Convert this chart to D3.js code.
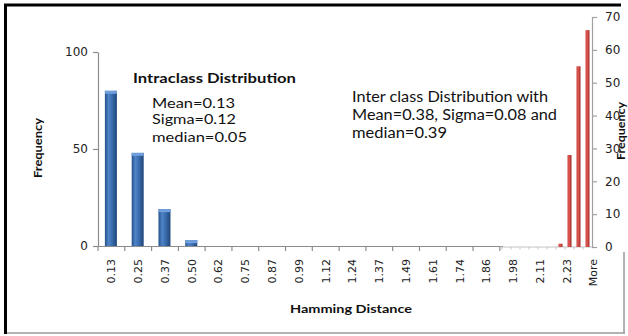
<!DOCTYPE html>
<html>
<head>
<meta charset="utf-8">
<script src="https://cdn.jsdelivr.net/npm/d3@7"></script>
<style>
  html, body { margin: 0; padding: 0; background: #fff; }
  svg { display: block; }
</style>
</head>
<body>
<svg id="chart" width="628" height="336"></svg>
<script>
// Hamming distance bins for the intraclass histogram
const categories = ["0.13","0.25","0.37","0.50","0.62","0.75","0.87","0.99","1.12",
  "1.24","1.37","1.49","1.61","1.74","1.86","1.98","2.11","2.23","More"];
const intraValues = [80, 48, 19, 3, 0, 0, 0, 0, 0, 0, 0, 0, 0, 0, 0, 0, 0, 0, 0];
const intraTicks = [0, 50, 100];

// Interclass histogram (inset on the right axis)
const interBins = [1, 2, 3, 4, 5, 6, 7, 8, 9, 10];
const interValues = [0, 0, 0, 0, 0, 0, 1, 28, 55, 66];
const interTicks = [0, 10, 20, 30, 40, 50, 60, 70];

const svg = d3.select("#chart");
const defs = svg.append("defs");

const blueGrad = defs.append("linearGradient").attr("id", "blueBar")
  .attr("x1", "0%").attr("x2", "100%").attr("y1", "0%").attr("y2", "0%");
[["0%", "#254f8a"], ["30%", "#4f84c8"], ["55%", "#3d70b3"], ["100%", "#1f4679"]]
  .forEach(([o, c]) => blueGrad.append("stop").attr("offset", o).attr("stop-color", c));

const redGrad = defs.append("linearGradient").attr("id", "redBar")
  .attr("x1", "0%").attr("x2", "100%").attr("y1", "0%").attr("y2", "0%");
[["0%", "#c9413d"], ["40%", "#e05a55"], ["100%", "#9e2622"]]
  .forEach(([o, c]) => redGrad.append("stop").attr("offset", o).attr("stop-color", c));

const tickFont = "'DejaVu Sans', sans-serif";
const textFont = "Lato, 'Open Sans', sans-serif";

// Chart frame
svg.append("line").attr("x1", 7).attr("x2", 625).attr("y1", 333).attr("y2", 333)
  .attr("stroke", "#9a9a9a").attr("stroke-width", 1.5);
svg.append("line").attr("x1", 624).attr("x2", 624).attr("y1", 8).attr("y2", 333)
  .attr("stroke", "#9a9a9a").attr("stroke-width", 1.5);

// Intraclass chart: band scale along the bottom, linear frequency on the left
const x = d3.scaleBand().domain(categories).range([98, 607]).paddingInner(0).paddingOuter(0);
const y = d3.scaleLinear().domain([0, 100]).range([246, 52]);

const xAxis = svg.append("g").attr("transform", "translate(0,246)")
  .call(d3.axisBottom(x).tickSize(0).tickPadding(0));
xAxis.select(".domain").attr("stroke", "#8c8c8c").attr("stroke-width", 1.2);
xAxis.selectAll(".tick text")
  .attr("transform", "rotate(-90)")
  .attr("text-anchor", "end")
  .attr("x", -13).attr("y", 0).attr("dy", "0.35em")
  .attr("font-family", tickFont).attr("font-size", 11).attr("fill", "#222");
// tick marks at band boundaries
const bounds = categories.map(c => x(c)).concat([x.range()[1]]);
svg.append("g").selectAll("line").data(bounds).join("line")
  .attr("x1", d => d).attr("x2", d => d).attr("y1", 246).attr("y2", 251)
  .attr("stroke", "#8c8c8c").attr("stroke-width", 1.2);

const yAxis = svg.append("g").attr("transform", "translate(98,0)")
  .call(d3.axisLeft(y).tickValues(intraTicks).tickSize(5).tickPadding(5).tickSizeOuter(0));
yAxis.select(".domain").attr("stroke", "#8c8c8c").attr("stroke-width", 1.2);
yAxis.selectAll(".tick line").attr("stroke", "#8c8c8c").attr("stroke-width", 1.2);
yAxis.selectAll(".tick text").attr("font-family", tickFont).attr("font-size", 12).attr("fill", "#222");

const bw = 12;
const bars = svg.append("g").selectAll("g").data(categories.map((c, i) => ({c, v: intraValues[i]})).filter(d => d.v > 0))
  .join("g");
bars.append("rect")
  .attr("x", d => x(d.c) + x.bandwidth() / 2 - bw / 2 - 0.5)
  .attr("y", d => y(d.v)).attr("width", bw).attr("height", d => y(0) - y(d.v))
  .attr("fill", "url(#blueBar)");
bars.append("rect")
  .attr("x", d => x(d.c) + x.bandwidth() / 2 - bw / 2 - 0.5)
  .attr("y", d => y(d.v)).attr("width", bw).attr("height", 3)
  .attr("fill", "#6f9fdc");

// Text helper: stretch glyphs to a given run length
function label(parent, t, len) {
  return parent.append("text").text(t)
    .attr("textLength", len).attr("lengthAdjust", "spacingAndGlyphs");
}

label(svg, "Frequency", 60)
  .attr("transform", "translate(42,148) rotate(-90)")
  .attr("text-anchor", "middle")
  .attr("font-family", textFont).attr("font-weight", 700).attr("font-size", 12).attr("fill", "#111");
label(svg, "Hamming Distance", 122)
  .attr("x", 351).attr("y", 313).attr("text-anchor", "middle")
  .attr("font-family", textFont).attr("font-weight", 700).attr("font-size", 12).attr("fill", "#111");

// Interclass inset sits on its own white panel
svg.append("rect").attr("x", 503).attr("y", 8).attr("width", 125).attr("height", 244).attr("fill", "#fff");

const x2 = d3.scaleBand().domain(interBins).range([502, 592]);
const y2 = d3.scaleLinear().domain([0, 70]).range([247, 17]);

svg.append("line").attr("x1", 500).attr("x2", 592).attr("y1", 247).attr("y2", 247)
  .attr("stroke", "#c4c4c4").attr("stroke-width", 1);
svg.append("g").selectAll("line").data(interBins.map(b => x2(b))).join("line")
  .attr("x1", d => d).attr("x2", d => d).attr("y1", 247).attr("y2", 249.5)
  .attr("stroke", "#c4c4c4").attr("stroke-width", 1);

const yAxis2 = svg.append("g").attr("transform", "translate(592,0)")
  .call(d3.axisRight(y2).tickValues(interTicks).tickSize(5).tickPadding(8).tickSizeOuter(0));
yAxis2.select(".domain").attr("stroke", "#a0a0a0").attr("stroke-width", 1.2);
yAxis2.selectAll(".tick line").attr("stroke", "#a0a0a0").attr("stroke-width", 1.2);
yAxis2.selectAll(".tick text").attr("font-family", tickFont).attr("font-size", 12).attr("fill", "#222");

const rw = 4;
svg.append("g").selectAll("rect").data(interBins.map((b, i) => ({b, v: interValues[i]})).filter(d => d.v > 0))
  .join("rect")
  .attr("x", d => x2(d.b) + x2.bandwidth() / 2 - rw / 2)
  .attr("y", d => y2(d.v)).attr("width", rw).attr("height", d => y2(0) - y2(d.v))
  .attr("fill", "url(#redBar)");

label(svg, "Frequency", 58)
  .attr("transform", "translate(625,131) rotate(-90)")
  .attr("text-anchor", "middle")
  .attr("font-family", textFont).attr("font-weight", 700).attr("font-size", 12).attr("fill", "#111");

// Outer border of the left/top edge
svg.append("line").attr("x1", 4).attr("x2", 621).attr("y1", 5).attr("y2", 5)
  .attr("stroke", "#000").attr("stroke-width", 3);
svg.append("line").attr("x1", 5.5).attr("x2", 5.5).attr("y1", 4).attr("y2", 334)
  .attr("stroke", "#000").attr("stroke-width", 3);

// Annotations
const intraNote = svg.append("g").attr("font-family", textFont).attr("fill", "#111");
label(intraNote, "Intraclass Distribution", 163)
  .attr("x", 133).attr("y", 83).attr("font-weight", 700).attr("font-size", 14);
[["Mean=0.13", 108, 83], ["Sigma=0.12", 124, 84], ["median=0.05", 142, 95]].forEach(([t, yy, len]) =>
  label(intraNote, t, len).attr("x", 152).attr("y", yy).attr("font-size", 14));

const interNote = svg.append("g").attr("font-family", textFont).attr("fill", "#111");
[["Inter class Distribution with", 102, 196], ["Mean=0.38, Sigma=0.08 and", 120, 205], ["median=0.39", 138, 95]]
  .forEach(([t, yy, len]) => label(interNote, t, len).attr("x", 352).attr("y", yy).attr("font-size", 14.5));
</script>
</body>
</html>
